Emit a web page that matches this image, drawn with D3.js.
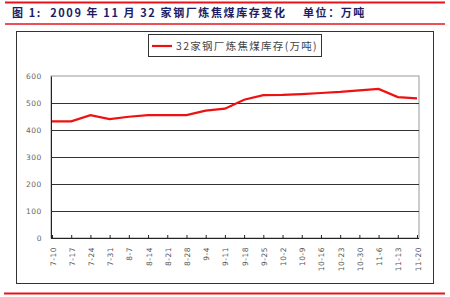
<!DOCTYPE html>
<html>
<head>
<meta charset="utf-8">
<script src="https://cdn.jsdelivr.net/npm/d3@7"></script>
<style>
  body { margin: 0; background: #fff; }
  svg { display: block; }
</style>
</head>
<body>
<div id="chart"></div>
<script>
// weekly coking coal stock at 32 steel mills, 10k tonnes
const dates = ['7-10','7-17','7-24','7-31','8-7','8-14','8-21','8-28','9-4','9-11',
               '9-18','9-25','10-2','10-9','10-16','10-23','10-30','11-6','11-13','11-20'];
const stock = [432, 432, 455, 440, 449, 455, 455, 455, 472, 479,
               512, 529, 530, 533, 537, 541, 547, 552, 522, 517];
const yTicks = [0, 100, 200, 300, 400, 500, 600];

const width = 450, height = 297;
const svg = d3.select('#chart').append('svg')
  .attr('width', width)
  .attr('height', height);

const cjk = '"Noto Sans CJK SC", "DejaVu Sans", sans-serif';

// title bar
svg.append('line').attr('x1', 5).attr('x2', 445).attr('y1', 2.5).attr('y2', 2.5)
   .attr('stroke', '#e8141c').attr('stroke-width', 2);
svg.append('line').attr('x1', 5).attr('x2', 445).attr('y1', 24).attr('y2', 24)
   .attr('stroke', '#e8141c').attr('stroke-width', 1.5);
svg.append('text')
   .attr('x', 12).attr('y', 17)
   .attr('font-family', cjk).attr('font-size', 11).attr('font-weight', 'bold')
   .attr('letter-spacing', 1.6)
   .attr('fill', '#1c1c66')
   .attr('xml:space', 'preserve')
   .text('图 1:  2009 年 11 月 32 家钢厂炼焦煤库存变化    单位：万吨');

// bottom red rule
svg.append('line').attr('x1', 4).attr('x2', 445).attr('y1', 293.5).attr('y2', 293.5)
   .attr('stroke', '#e8141c').attr('stroke-width', 2);

// outer chart frame
svg.append('rect').attr('x', 16.5).attr('y', 31.5).attr('width', 417).attr('height', 252)
   .attr('fill', '#fff').attr('stroke', '#333').attr('stroke-width', 1);

const plotL = 51, plotR = 419, plotT = 76, plotB = 238;

const x = d3.scalePoint().domain(dates).range([52, 417]);
const y = d3.scaleLinear().domain([0, 600]).range([plotB, plotT]);

// plot area border
svg.append('rect').attr('x', plotL).attr('y', plotT).attr('width', plotR - plotL).attr('height', plotB - plotT)
   .attr('fill', 'none').attr('stroke', '#999').attr('stroke-width', 1);

// grid lines
svg.append('g')
  .selectAll('line')
  .data(yTicks.filter(d => d > 0 && d < 600))
  .enter().append('line')
  .attr('x1', plotL).attr('x2', plotR)
  .attr('y1', d => Math.round(y(d)) + 0.5).attr('y2', d => Math.round(y(d)) + 0.5)
  .attr('stroke', '#333').attr('stroke-width', 1);

// y axis
const yAxis = svg.append('g')
  .attr('transform', `translate(${plotL}, 0)`)
  .call(d3.axisLeft(y).tickValues(yTicks).tickSize(0).tickPadding(9));
yAxis.select('.domain').attr('stroke', '#222');
yAxis.selectAll('text')
  .attr('font-family', '"DejaVu Sans", sans-serif').attr('font-size', 7.5)
  .attr('letter-spacing', 0.6).attr('fill', '#666');

// x axis
const xAxis = svg.append('g')
  .attr('transform', `translate(0, ${plotB})`)
  .call(d3.axisBottom(x).tickSize(3).tickSizeOuter(0));
xAxis.select('.domain').attr('stroke', '#222').attr('d', `M${plotL},0.5H${plotR}`);
xAxis.selectAll('.tick line').attr('stroke', '#222').attr('transform', 'translate(0,-3)');
xAxis.selectAll('text')
  .attr('font-family', '"DejaVu Sans", sans-serif').attr('font-size', 7.5)
  .attr('letter-spacing', 0.5).attr('fill', '#555')
  .attr('text-anchor', 'end')
  .attr('dy', null).attr('y', 0)
  .attr('transform', 'translate(3,9) rotate(-90)');

// series line
const line = d3.line()
  .x((d, i) => x(dates[i]))
  .y(d => y(d));
svg.append('path')
  .datum(stock)
  .attr('fill', 'none')
  .attr('stroke', '#ee1111')
  .attr('stroke-width', 2.2)
  .attr('d', line);

// legend
svg.append('rect').attr('x', 148.5).attr('y', 34.5).attr('width', 173).attr('height', 22)
   .attr('fill', '#fff').attr('stroke', '#333').attr('stroke-width', 1);
svg.append('line').attr('x1', 152).attr('x2', 172).attr('y1', 46).attr('y2', 46)
   .attr('stroke', '#ee1111').attr('stroke-width', 2.2);
svg.append('text')
   .attr('x', 176).attr('y', 49.5)
   .attr('font-family', cjk).attr('font-size', 10.5)
   .attr('letter-spacing', 1.3)
   .attr('fill', '#444')
   .text('32家钢厂炼焦煤库存(万吨)');
</script>
</body>
</html>
